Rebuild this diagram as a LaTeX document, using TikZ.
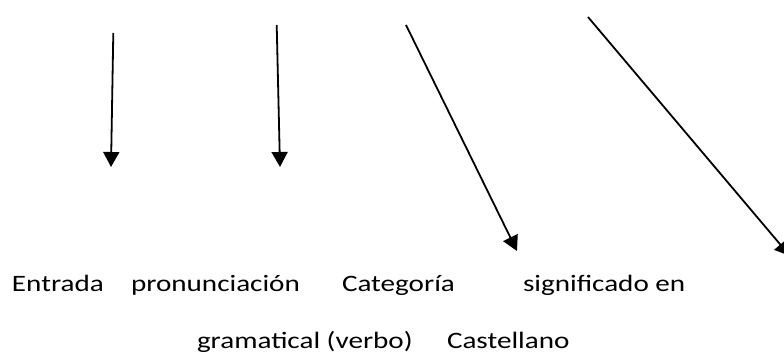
\documentclass[tikz,border=0pt]{standalone}
\usepackage{fontspec}
\setmainfont{Carlito}
\usetikzlibrary{arrows.meta}

\begin{document}
\begin{tikzpicture}[x=1pt,y=-1pt,
  pointer/.style={line width=1.8pt,
    -{Triangle[length=15pt,width=16pt]}},
  lbl/.style={anchor=base west, inner sep=0pt, outer sep=0pt,
    font=\fontsize{23.5}{28}\selectfont, xscale=1.24, transform shape}]
  \useasboundingbox (0,0) rectangle (784,356);
  \clip (0,0) rectangle (784,356);

  % arrow end points
  \coordinate (a1s) at (113.3,33);
  \coordinate (a1e) at (111,167);
  \coordinate (a2s) at (276.7,25);
  \coordinate (a2e) at (280,167);
  \coordinate (a3s) at (406,25);
  \coordinate (a3e) at (517,251);
  \coordinate (a4s) at (588,17);
  \coordinate (a4e) at (790,256);

  \draw[pointer] (a1s) -- (a1e);
  \draw[pointer] (a2s) -- (a2e);
  \draw[pointer] (a3s) -- (a3e);
  \draw[pointer] (a4s) -- (a4e);

  % first line of labels
  \node[lbl] (entrada) at (12,291) {Entrada};
  \node[lbl] (pron)    at (131,291) {pronunciación};
  \node[lbl] (cat)     at (342,291) {Categoría};
  \node[lbl] (sig)     at (523,291) {significado en};
  % second line of labels
  \node[lbl] (gram)    at (197,348) {gramatical (verbo)};
  \node[lbl] (cast)    at (447,348) {Castellano};
\end{tikzpicture}
\end{document}
